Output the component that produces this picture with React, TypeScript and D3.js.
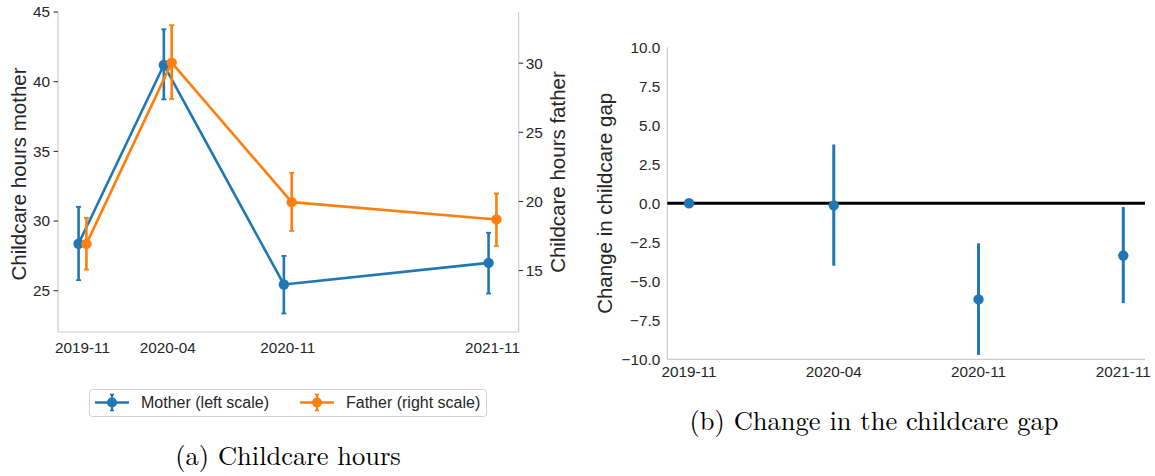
import React from "react";
import * as d3 from "d3";

// ---------- Data ----------
const waves = ["2019-11", "2020-04", "2020-11", "2021-11"];

const motherMean = [28.37, 41.2, 25.45, 27.0];
const motherLow = [25.76, 38.73, 23.37, 24.8];
const motherHigh = [31.02, 43.76, 27.5, 29.16];

const fatherMean = [16.93, 30.04, 19.95, 18.7];
const fatherLow = [15.07, 27.41, 17.87, 16.78];
const fatherHigh = [18.81, 32.75, 22.07, 20.58];

const gapMean = [0, -0.13, -6.16, -3.35];
const gapLow = [0, -4.0, -9.72, -6.4];
const gapHigh = [0, 3.77, -2.57, -0.24];

const leftTicks = [25, 30, 35, 40, 45];
const rightTicks = [15, 20, 25, 30];
const gapTicks = [10, 7.5, 5, 2.5, 0, -2.5, -5, -7.5, -10];

const legendLabels = ["Mother (left scale)", "Father (right scale)"];
const captionA = "(a) Childcare hours";
const captionB = "(b) Change in the childcare gap";

// ---------- Style ----------
const BLUE = "#1f77b4";
const ORANGE = "#ff7f0e";
const TEXT = "#262626";
const SPINE = "#cccccc";
const SANS = "'Liberation Sans', Arial, sans-serif";
const SERIF = "'Latin Modern Roman', 'CMU Serif', 'Liberation Serif', serif";

const parseWave = d3.timeParse("%Y-%m");
const waveDates = waves.map((w) => parseWave(w) as Date);

export default function App() {
  // ----- Panel A -----
  const A = { left: 58, right: 518.7, top: 12, bottom: 332 };
  const xA = d3
    .scaleTime()
    .domain([waveDates[0], waveDates[3]])
    .range([82.5, 492.5]);
  const yL = d3.scaleLinear().domain([22.04, 45]).range([A.bottom, A.top]);
  const yR = d3.scaleLinear().domain([10.56, 33.7]).range([A.bottom, A.top]);
  const dodge = (d: Date, days: number) => d3.timeDay.offset(d, days);

  const motherPts = waveDates.map((d, i) => ({
    x: xA(dodge(d, -7)),
    y: yL(motherMean[i]),
    lo: yL(motherLow[i]),
    hi: yL(motherHigh[i]),
  }));
  const fatherPts = waveDates.map((d, i) => ({
    x: xA(dodge(d, 7)),
    y: yR(fatherMean[i]),
    lo: yR(fatherLow[i]),
    hi: yR(fatherHigh[i]),
  }));
  const line = d3
    .line<{ x: number; y: number }>()
    .x((p) => p.x)
    .y((p) => p.y);

  // ----- Panel B -----
  const B = { left: 667.3, right: 1145, top: 47.3, bottom: 359.3 };
  const xB = d3
    .scalePoint<string>()
    .domain(waves)
    .range([B.left, B.right])
    .padding(0.15);
  const yB = d3.scaleLinear().domain([-10, 10]).range([B.bottom, B.top]);
  const fmt = d3.format(".1f");

  const renderSeries = (
    pts: { x: number; y: number; lo: number; hi: number }[],
    color: string
  ) => (
    <g>
      <path
        d={line(pts) || ""}
        fill="none"
        stroke={color}
        strokeWidth={2.6}
        strokeLinejoin="round"
      />
      {pts.map((p, i) => (
        <g key={i}>
          <line x1={p.x} x2={p.x} y1={p.lo} y2={p.hi} stroke={color} strokeWidth={2.6} />
          <line x1={p.x - 2.5} x2={p.x + 2.5} y1={p.lo} y2={p.lo} stroke={color} strokeWidth={1.8} />
          <line x1={p.x - 2.5} x2={p.x + 2.5} y1={p.hi} y2={p.hi} stroke={color} strokeWidth={1.8} />
          <circle cx={p.x} cy={p.y} r={5.2} fill={color} />
        </g>
      ))}
    </g>
  );

  const legendHandle = (x0: number, cy: number, color: string) => (
    <g>
      <line x1={x0} x2={x0 + 34} y1={cy} y2={cy} stroke={color} strokeWidth={2.6} />
      <line x1={x0 + 17} x2={x0 + 17} y1={cy - 8} y2={cy + 8} stroke={color} strokeWidth={2.2} />
      <line x1={x0 + 15} x2={x0 + 19} y1={cy - 8} y2={cy - 8} stroke={color} strokeWidth={1.6} />
      <line x1={x0 + 15} x2={x0 + 19} y1={cy + 8} y2={cy + 8} stroke={color} strokeWidth={1.6} />
      <circle cx={x0 + 17} cy={cy} r={5} fill={color} />
    </g>
  );

  return (
    <svg
      width={1155}
      height={476}
      style={{ position: "absolute", left: 0, top: 0, background: "#fff" }}
      fontFamily={SANS}
    >
      {/* ===== Panel A ===== */}
      <g>
        {/* spines */}
        <line x1={A.left} x2={A.left} y1={A.top} y2={A.bottom} stroke={SPINE} strokeWidth={1.2} />
        <line x1={A.right} x2={A.right} y1={A.top} y2={A.bottom} stroke={SPINE} strokeWidth={1.2} />
        <line x1={A.left} x2={A.right} y1={A.bottom} y2={A.bottom} stroke={SPINE} strokeWidth={1.2} />

        {/* left ticks */}
        {leftTicks.map((t) => (
          <g key={"l" + t}>
            <line x1={A.left - 4.5} x2={A.left} y1={yL(t)} y2={yL(t)} stroke={TEXT} strokeWidth={1} />
            <text x={A.left - 8} y={yL(t)} dy="0.35em" textAnchor="end" fontSize={15.3} fill={TEXT}>
              {t}
            </text>
          </g>
        ))}
        {/* right ticks */}
        {rightTicks.map((t) => (
          <g key={"r" + t}>
            <line x1={A.right} x2={A.right + 4.5} y1={yR(t)} y2={yR(t)} stroke={TEXT} strokeWidth={1} />
            <text x={A.right + 7} y={yR(t)} dy="0.35em" textAnchor="start" fontSize={15.3} fill={TEXT}>
              {t}
            </text>
          </g>
        ))}
        {/* x tick labels */}
        {waveDates.map((d, i) => (
          <text key={"xa" + i} x={xA(d)} y={353} textAnchor="middle" fontSize={15.3} fill={TEXT}>
            {waves[i]}
          </text>
        ))}

        {/* axis labels */}
        <text
          transform={`translate(26,${(A.top + A.bottom) / 2 + 2}) rotate(-90)`}
          textAnchor="middle"
          fontSize={20.5}
          fill={TEXT}
        >
          Childcare hours mother
        </text>
        <text
          transform={`translate(565,${(A.top + A.bottom) / 2}) rotate(-90)`}
          textAnchor="middle"
          fontSize={20.5}
          fill={TEXT}
        >
          Childcare hours father
        </text>

        {renderSeries(motherPts, BLUE)}
        {renderSeries(fatherPts, ORANGE)}

        {/* legend */}
        <rect x={89.5} y={389.5} width={397} height={27} rx={3} fill="#fff" stroke="#d0d0d0" strokeWidth={1} />
        {legendHandle(95, 402.5, BLUE)}
        <text x={141} y={402.5} dy="0.35em" fontSize={16} fill={TEXT}>
          {legendLabels[0]}
        </text>
        {legendHandle(300, 402.5, ORANGE)}
        <text x={346} y={402.5} dy="0.35em" fontSize={16} fill={TEXT}>
          {legendLabels[1]}
        </text>

        <text x={288} y={465} textAnchor="middle" fontFamily={SERIF} fontSize={26.5} fill="#000">
          {captionA}
        </text>
      </g>

      {/* ===== Panel B ===== */}
      <g>
        <line x1={B.left} x2={B.left} y1={B.top} y2={B.bottom} stroke={SPINE} strokeWidth={1.2} />
        <line x1={B.left} x2={B.right} y1={B.bottom} y2={B.bottom} stroke={SPINE} strokeWidth={1.2} />

        {gapTicks.map((t) => (
          <text key={"g" + t} x={B.left - 7} y={yB(t)} dy="0.35em" textAnchor="end" fontSize={15.3} fill={TEXT}>
            {fmt(t)}
          </text>
        ))}
        {waves.map((w) => (
          <text key={"xb" + w} x={xB(w)} y={377} textAnchor="middle" fontSize={15.3} fill={TEXT}>
            {w}
          </text>
        ))}

        <text
          transform={`translate(612,${(B.top + B.bottom) / 2}) rotate(-90)`}
          textAnchor="middle"
          fontSize={20.5}
          fill={TEXT}
        >
          Change in childcare gap
        </text>

        <line x1={B.left} x2={B.right} y1={yB(0)} y2={yB(0)} stroke="#000" strokeWidth={3} />

        {waves.map((w, i) => (
          <g key={"p" + w}>
            {gapLow[i] !== gapHigh[i] && (
              <line
                x1={xB(w)}
                x2={xB(w)}
                y1={yB(gapLow[i])}
                y2={yB(gapHigh[i])}
                stroke={BLUE}
                strokeWidth={3}
              />
            )}
            <circle cx={xB(w)} cy={yB(gapMean[i])} r={5.2} fill={BLUE} />
          </g>
        ))}

        <text x={874} y={430} textAnchor="middle" fontFamily={SERIF} fontSize={26.5} fill="#000">
          {captionB}
        </text>
      </g>
    </svg>
  );
}
